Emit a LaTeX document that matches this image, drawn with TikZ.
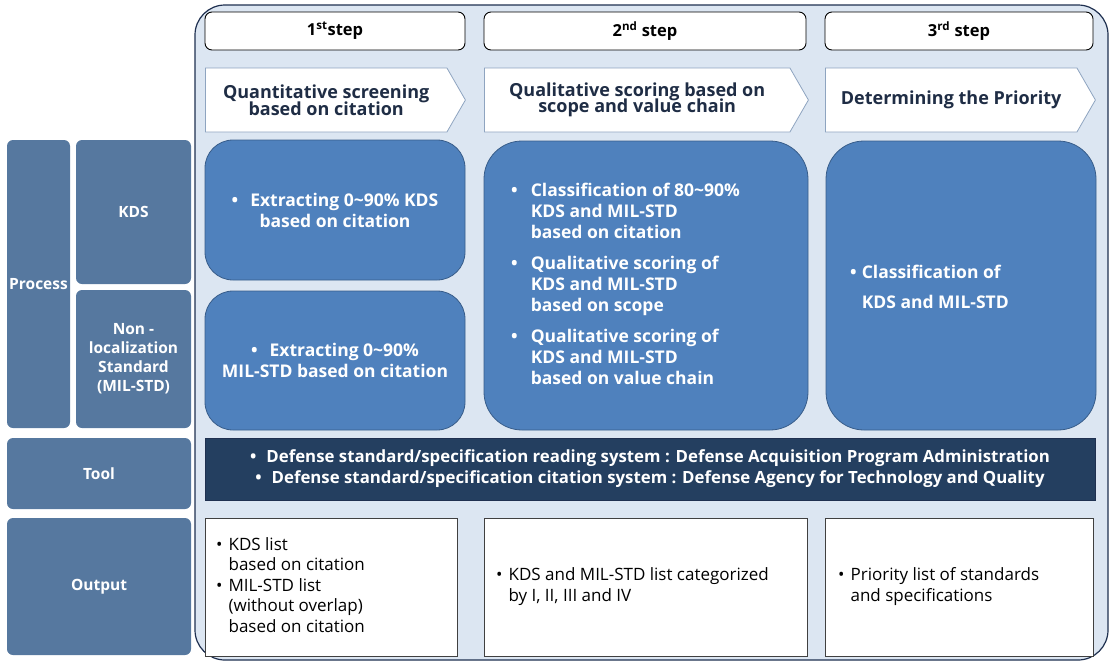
\documentclass[tikz,border=0pt]{standalone}
\usepackage{fontspec}
\setmainfont{Open Sans}
\usetikzlibrary{shapes.symbols}
\definecolor{panelfill}{HTML}{DCE6F2}
\definecolor{paneldraw}{HTML}{1F3050}
\definecolor{sidefill}{HTML}{56789F}
\definecolor{procfill}{HTML}{4F81BD}
\definecolor{procdraw}{HTML}{385D8A}
\definecolor{toolfill}{HTML}{243F60}
\definecolor{chevdraw}{HTML}{8EA4C0}
\definecolor{txtdark}{HTML}{1F2D45}
\newcommand\tightlines{\lineskiplimit=-20pt\relax}

\begin{document}
\begin{tikzpicture}[x=1pt, y=-1pt,
    side/.style     = {fill=sidefill, rounded corners=6pt, text=white,
                       font=\fontsize{15.5}{19}\selectfont\bfseries,
                       align=center, inner sep=0pt},
    stepbox/.style  = {draw=black, line width=0.9pt, fill=white,
                       rounded corners=7pt, minimum height=38pt,
                       font=\fontsize{16.5}{18}\selectfont\bfseries, inner sep=0pt},
    chevron/.style  = {signal, signal to=east, signal pointer angle=120,
                       draw=chevdraw, line width=0.8pt, fill=white,
                       minimum height=64pt, text=txtdark, align=center, anchor=west,
                       font=\fontsize{18}{16.5}\selectfont\bfseries\tightlines,
                       inner sep=0pt},
    proc/.style     = {fill=procfill, draw=procdraw, line width=0.8pt,
                       rounded corners=28pt, inner sep=0pt},
    proctext/.style = {text=white, font=\fontsize{17.5}{21}\selectfont\bfseries,
                       align=center, inner sep=0pt},
    outbox/.style   = {draw=black!75, line width=0.8pt, fill=white,
                       minimum height=138pt, inner sep=0pt},
    outtext/.style  = {font=\fontsize{17}{20.5}\selectfont, align=left, inner sep=0pt}
  ]
  \useasboundingbox (0,0) rectangle (1110,662);

  % background panel of the three steps
  \node[fill=panelfill, draw=paneldraw, line width=1.2pt, rounded corners=30pt,
        minimum width=913pt, minimum height=655pt] (panel) at (651.5,332.5) {};

  % left column
  \node[side, minimum width=63pt,  minimum height=288pt] (process) at (38.5,284)  {Process};
  \node[side, minimum width=115pt, minimum height=144pt] (kdsrow)  at (133.5,212) {KDS};
  \node[side, minimum width=115pt, minimum height=138pt] (milrow)  at (133.5,359)
       {Non -\\localization\\Standard\\(MIL-STD)};
  \node[side, minimum width=184pt, minimum height=71pt]  (toolrow) at (99,473.5)  {Tool};
  \node[side, minimum width=184pt, minimum height=137pt] (outrow)  at (99,586.5)  {Output};

  % step headers
  \node[stepbox, minimum width=260pt] (step1) at (335,31) {1\textsuperscript{st}step};
  \node[stepbox, minimum width=322pt] (step2) at (645,31) {2\textsuperscript{nd} step};
  \node[stepbox, minimum width=268pt] (step3) at (959,31) {3\textsuperscript{rd} step};

  \node[chevron, minimum width=260pt] (chev1) at (205,100)
       {Quantitative screening\\based on citation};
  \node[chevron, minimum width=324pt] (chev2) at (484,100)
       {Qualitative scoring based on\\scope and value chain};
  \node[chevron, minimum width=270pt] (chev3) at (825,100)
       {Determining the Priority};

  % process boxes
  \node[proc, minimum width=260pt, minimum height=140pt] (kds1) at (335,210) {};
  \node[proc, minimum width=260pt, minimum height=139pt] (mil1) at (335,360.5) {};
  \node[proc, rounded corners=38pt, minimum width=324pt, minimum height=289pt] (proc2) at (646,285.5) {};
  \node[proc, rounded corners=38pt, minimum width=270pt, minimum height=289pt] (proc3) at (961,285.5) {};

  \node[proctext] (kds1txt) at (kds1)
       {\textbullet\hspace{12pt}Extracting 0\textasciitilde90\% KDS\\based on citation};
  \node[proctext] (mil1txt) at (mil1)
       {\textbullet\hspace{12pt}Extracting 0\textasciitilde90\%\\MIL-STD based on citation};
  \node[proctext, anchor=west] (proc2txt) at (511,286)
       {\begin{tabular}{@{}l@{\hspace{13pt}}l@{}}
        \textbullet & Classification of 80\textasciitilde90\% \\
                    & KDS and MIL-STD \\
                    & based on citation \\[10pt]
        \textbullet & Qualitative scoring of \\
                    & KDS and MIL-STD \\
                    & based on scope \\[10pt]
        \textbullet & Qualitative scoring of \\
                    & KDS and MIL-STD \\
                    & based on value chain
        \end{tabular}};
  \node[proctext, anchor=west, font=\fontsize{17.5}{30}\selectfont\bfseries] (proc3txt) at (850,287)
       {\begin{tabular}{@{}l@{\hspace{5pt}}l@{}}
        \textbullet & Classification of \\
                    & KDS and MIL-STD
        \end{tabular}};

  % tool bar
  \node[fill=toolfill, draw=paneldraw, minimum width=890pt, minimum height=62pt,
        text=white, align=center, inner sep=0pt,
        font=\fontsize{16.8}{21}\selectfont\bfseries] (tools) at (650,469)
       {\textbullet\hspace{10pt}Defense standard/specification reading system : Defense Acquisition Program Administration\\
        \textbullet\hspace{10pt}Defense standard/specification citation system : Defense Agency for Technology and Quality};

  % outputs
  \node[outbox, minimum width=252pt] (out1) at (331,587) {};
  \node[outbox, minimum width=323pt] (out2) at (645.5,587) {};
  \node[outbox, minimum width=268pt] (out3) at (959,587) {};

  \node[outtext, anchor=west] (out1txt) at (216,587)
       {\begin{tabular}{@{}l@{\hspace{6pt}}l@{}}
        \textbullet & KDS list \\
                    & based on citation \\
        \textbullet & MIL-STD list \\
                    & (without overlap) \\
                    & based on citation
        \end{tabular}};
  \node[outtext, anchor=west] (out2txt) at (496,587)
       {\begin{tabular}{@{}l@{\hspace{6pt}}l@{}}
        \textbullet & KDS and MIL-STD list categorized \\
                    & by I, II, III and IV
        \end{tabular}};
  \node[outtext, anchor=west] (out3txt) at (838,587)
       {\begin{tabular}{@{}l@{\hspace{6pt}}l@{}}
        \textbullet & Priority list of standards \\
                    & and specifications
        \end{tabular}};
\end{tikzpicture}
\end{document}
